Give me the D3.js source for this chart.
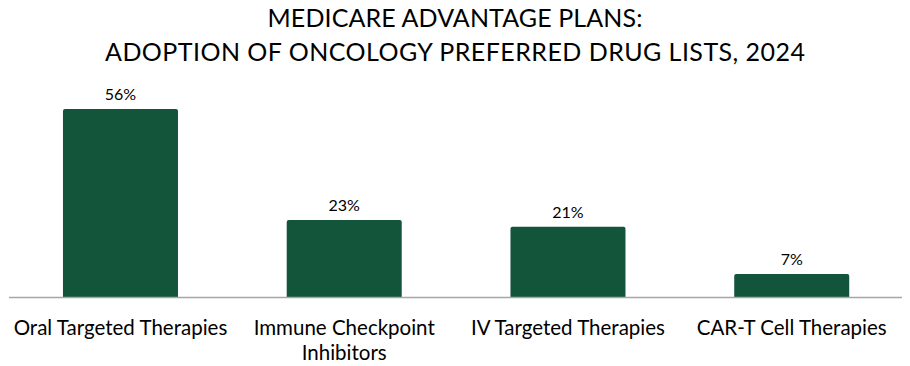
<!DOCTYPE html>
<html><head><meta charset="utf-8">
<script src="https://cdn.jsdelivr.net/npm/d3@7"></script>
<style>body{margin:0;background:#fff}svg{display:block}text{font-family:Lato,"Noto Sans",sans-serif;fill:#000}</style>
</head><body>
<svg id="c" width="910" height="366"></svg>
<script>
const titleLines = ["MEDICARE ADVANTAGE PLANS:", "ADOPTION OF ONCOLOGY PREFERRED DRUG LISTS, 2024"];
const titleWidths = [375, 700];
const categories = [["Oral Targeted Therapies"], ["Immune Checkpoint", "Inhibitors"], ["IV Targeted Therapies"], ["CAR-T Cell Therapies"]];
const values = [56, 23, 21, 7];
const valueLabels = ["56%", "23%", "21%", "7%"];

const svg = d3.select("#c");
const baseY = 297.5;
const x = d3.scaleBand().domain(d3.range(categories.length)).range([8.6, 903.6]).paddingInner(0.486).paddingOuter(0.243);
const y = d3.scaleLinear().domain([0, 56]).range([baseY, 109]);

svg.selectAll("text.title").data(titleLines).join("text").attr("class","title")
  .attr("x", 455).attr("y", (d,i)=>26.5+i*34).attr("text-anchor","middle")
  .attr("textLength",(d,i)=>titleWidths[i]).attr("lengthAdjust","spacing")
  .style("font-size","25px").text(d=>d);

const r = 2;
svg.selectAll("path.bar").data(values).join("path").attr("class","bar")
  .attr("fill","#12553b")
  .attr("d",(d,i)=>{
    const x0=x(i), w=x.bandwidth(), t=y(d), b=baseY;
    return `M${x0},${b}V${t+r}Q${x0},${t} ${x0+r},${t}H${x0+w-r}Q${x0+w},${t} ${x0+w},${t+r}V${b}Z`;
  });

svg.append("line").attr("x1",9).attr("x2",902).attr("y1",baseY).attr("y2",baseY)
  .attr("stroke","#a6a6a6").attr("stroke-width",1.5);

svg.selectAll("text.val").data(values).join("text").attr("class","val")
  .attr("x",(d,i)=>x(i)+x.bandwidth()/2).attr("y",d=>y(d)-9).attr("text-anchor","middle")
  .style("font-size","16px").text((d,i)=>valueLabels[i]);

const cat = svg.selectAll("text.cat").data(categories).join("text").attr("class","cat")
  .attr("text-anchor","middle").style("font-size","20.5px");
cat.selectAll("tspan").data((d,i)=>d.map(s=>({s,i}))).join("tspan")
  .attr("x",d=>x(d.i)+x.bandwidth()/2).attr("y",(d,j)=>335+j*25).text(d=>d.s);
</script>
</body></html>
